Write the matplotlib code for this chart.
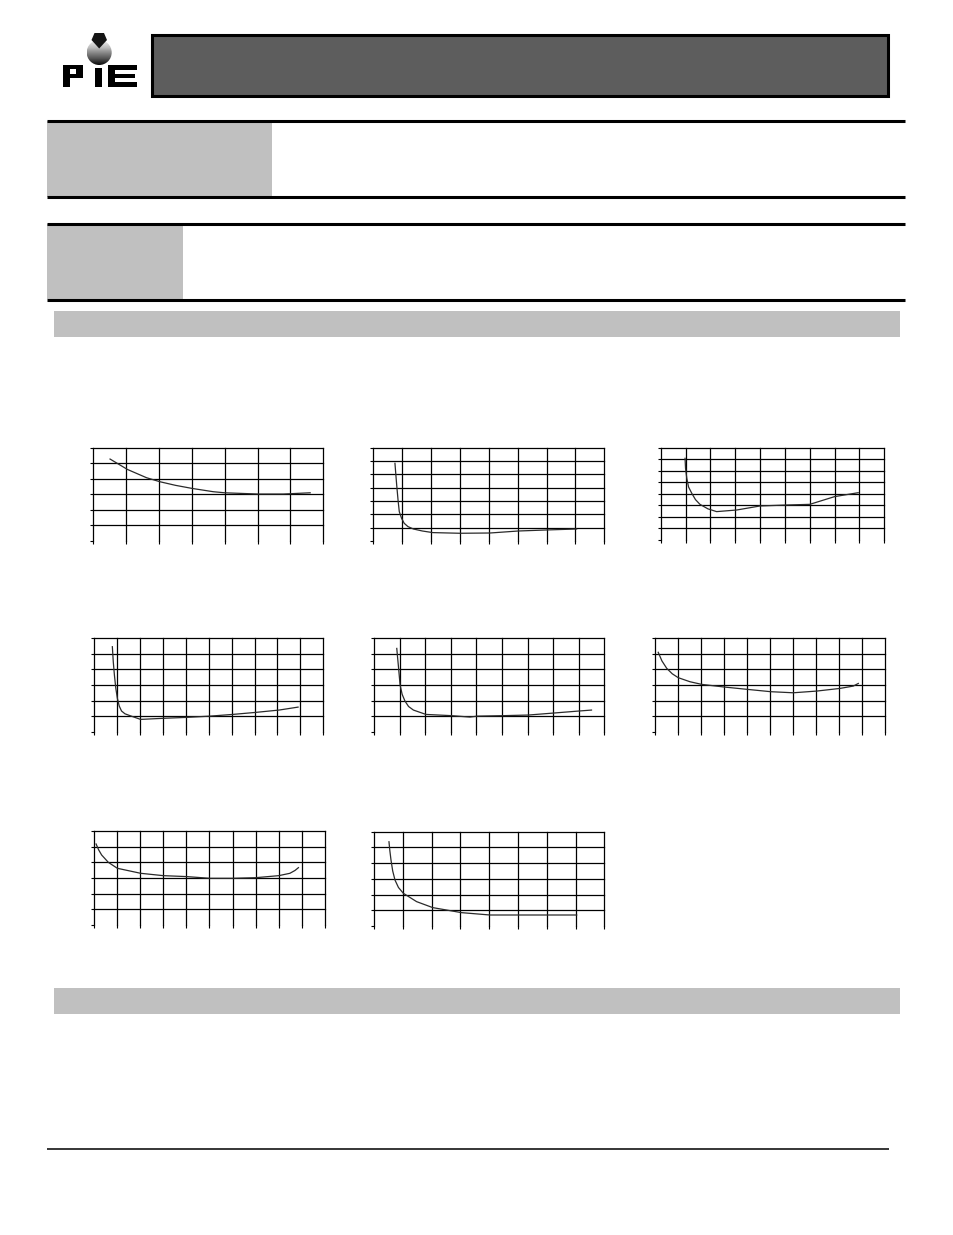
import matplotlib
matplotlib.use("Agg")
from matplotlib import pyplot as plt
from matplotlib.patches import Rectangle, Circle, Polygon
import numpy as np

# Page size in pixels (dpi 100)
W, H = 954, 1235

# Curve data, in grid units (x = column, y = row from bottom)
c1_x = [0.51, 1.04, 1.62, 2.03, 2.5, 3.01, 3.65, 4.0, 5.02, 5.78, 6.6]
c1_y = [5.27, 4.6, 4.07, 3.81, 3.58, 3.38, 3.17, 3.1, 3.02, 3.02, 3.1]

c2_x = [0.75, 0.78, 0.81, 0.86, 0.9, 0.98, 1.07, 1.2, 1.39, 1.7, 2.06, 3.0, 4.04, 5.02, 6.03, 7.04]
c2_y = [5.83, 5.0, 4.2, 3.0, 2.2, 1.7, 1.33, 1.08, 0.9, 0.75, 0.63, 0.58, 0.6, 0.75, 0.83, 0.9]

c3_x = [0.98, 1.0, 1.05, 1.12, 1.25, 1.4, 1.58, 1.9, 2.25, 3.06, 4.0, 5.03, 6.0, 7.0, 7.95]
c3_y = [7.08, 6.2, 5.35, 4.6, 4.05, 3.5, 3.09, 2.7, 2.46, 2.6, 2.95, 3.03, 3.09, 3.76, 4.1]

c4_x = [0.8, 0.84, 0.89, 0.95, 1.02, 1.1, 1.2, 1.35, 1.57, 2.03, 3.02, 4.04, 5.06, 6.05, 7.05, 8.07, 8.9]
c4_y = [5.46, 4.5, 3.64, 2.8, 2.14, 1.65, 1.33, 1.15, 1.03, 0.79, 0.86, 0.92, 1.0, 1.11, 1.24, 1.39, 1.58]

c5_x = [0.89, 0.92, 0.95, 1.02, 1.1, 1.21, 1.35, 1.54, 2.03, 3.03, 3.75, 4.04, 5.03, 6.03, 7.03, 8.02, 8.5]
c5_y = [5.35, 4.8, 4.28, 3.0, 2.4, 1.97, 1.62, 1.39, 1.11, 1.03, 0.94, 1.0, 1.03, 1.07, 1.2, 1.33, 1.39]

c6_x = [0.14, 0.3, 0.51, 0.75, 1.01, 1.52, 2.03, 3.01, 4.01, 5.03, 6.01, 7.03, 8.04, 8.62, 8.84]
c6_y = [5.1, 4.55, 4.07, 3.72, 3.47, 3.21, 3.04, 2.87, 2.72, 2.57, 2.5, 2.61, 2.78, 2.93, 3.1]

c7_x = [0.09, 0.2, 0.33, 0.62, 1.01, 2.02, 3.0, 4.01, 5.02, 6.0, 7.0, 8.0, 8.48, 8.7, 8.85]
c7_y = [5.17, 4.8, 4.47, 4.0, 3.62, 3.3, 3.15, 3.09, 2.98, 2.98, 3.02, 3.15, 3.3, 3.48, 3.66]

c8_x = [0.52, 0.55, 0.59, 0.65, 0.73, 0.85, 1.02, 1.48, 2.04, 3.04, 4.03, 5.01, 6.02, 7.04]
c8_y = [5.36, 4.8, 4.2, 3.5, 2.92, 2.45, 2.08, 1.55, 1.17, 0.85, 0.7, 0.7, 0.7, 0.7]

curves = [(c1_x, c1_y), (c2_x, c2_y), (c3_x, c3_y), (c4_x, c4_y),
          (c5_x, c5_y), (c6_x, c6_y), (c7_x, c7_y), (c8_x, c8_y)]

# Chart boxes on the page: left, top, right, bottom (px), columns, rows
chart_boxes = [
    (93.3, 447.7, 323.3, 541.0, 7, 6),
    (373.3, 447.7, 604.3, 541.0, 8, 7),
    (660.7, 447.7, 884.3, 540.0, 9, 8),
    (94.0, 638.3, 323.3, 731.7, 10, 6),
    (374.0, 638.3, 604.3, 731.7, 9, 6),
    (655.0, 638.3, 885.0, 731.7, 10, 6),
    (94.0, 831.0, 325.0, 925.0, 10, 6),
    (374.0, 831.7, 604.3, 926.0, 8, 6),
]

fig = plt.figure(figsize=(W / 100, H / 100), dpi=100)

# page layer in pixel coordinates
page = fig.add_axes([0, 0, 1, 1])
page.set_xlim(0, W)
page.set_ylim(H, 0)
page.axis("off")

# header banner
page.add_patch(Rectangle((152, 35), 736, 61, facecolor="#5d5d5d", edgecolor="black", lw=2.2))

# logo: gradient ball, dark cap, letters P i E
grad = np.linspace(0, 1, 100).reshape(-1, 1)
ball = Circle((99.2, 52.5), 12.5, transform=page.transData)
img = page.imshow(grad, cmap="Greys", vmin=-0.15, vmax=1.05, extent=(86.7, 111.7, 65, 40),
                  aspect="auto", zorder=2)
img.set_clip_path(ball)
page.add_patch(Polygon([(91.5, 40), (94.5, 33), (104, 33), (107, 40), (99.2, 48.5)],
                       facecolor="#151515", edgecolor="none", zorder=3))
blk = dict(facecolor="black", edgecolor="none", zorder=3)
page.add_patch(Rectangle((62.7, 65), 7.3, 21.7, **blk))
page.add_patch(Rectangle((62.7, 65), 20, 13, **blk))
page.add_patch(Rectangle((70, 69.3), 6.5, 4.4, facecolor="white", edgecolor="none", zorder=4))
page.add_patch(Rectangle((95, 68), 7.5, 18.7, **blk))
page.add_patch(Rectangle((108.3, 65), 7.2, 21.7, **blk))
page.add_patch(Rectangle((108.3, 65), 29, 4.5, **blk))
page.add_patch(Rectangle((108.3, 73.5), 27, 4.2, **blk))
page.add_patch(Rectangle((108.3, 81.8), 29, 4.9, **blk))

# section blocks
page.add_patch(Rectangle((47, 121), 225, 75.5, facecolor="#c0c0c0", edgecolor="none"))
page.add_patch(Rectangle((47, 224), 136, 75, facecolor="#c0c0c0", edgecolor="none"))
for y in [121, 197, 224, 299.5]:
    page.plot([47, 905], [y, y], color="black", lw=2.2, solid_capstyle="butt")

# grey title bars
page.add_patch(Rectangle((54, 311), 846, 26, facecolor="#c0c0c0", edgecolor="none"))
page.add_patch(Rectangle((54, 988), 846, 25.5, facecolor="#c0c0c0", edgecolor="none"))

# footer rule
page.plot([47, 889], [1149, 1149], color="black", lw=1.1, solid_capstyle="butt")

# the small charts
for (x0, y0, x1, y1, ncols, nrows), (cx, cy) in zip(chart_boxes, curves):
    ax = fig.add_axes([x0 / W, 1 - y1 / H, (x1 - x0) / W, (y1 - y0) / H])
    ax.set_xlim(0, ncols)
    ax.set_ylim(0, nrows)
    ax.set_facecolor("none")
    for s in ax.spines.values():
        s.set_visible(False)
    ax.set_xticks(range(ncols + 1))
    ax.set_yticks(range(nrows + 1))
    ax.tick_params(direction="out", length=2.5, width=0.8, color="black",
                   labelbottom=False, labelleft=False)
    ax.grid(True, color="black", lw=0.9)
    for gl in ax.get_xgridlines() + ax.get_ygridlines():
        gl.set_clip_on(False)
    ax.get_ygridlines()[0].set_visible(False)
    ax.plot(cx, cy, color="#2a2a2a", lw=0.9)

fig.savefig("out.png", dpi=100)
